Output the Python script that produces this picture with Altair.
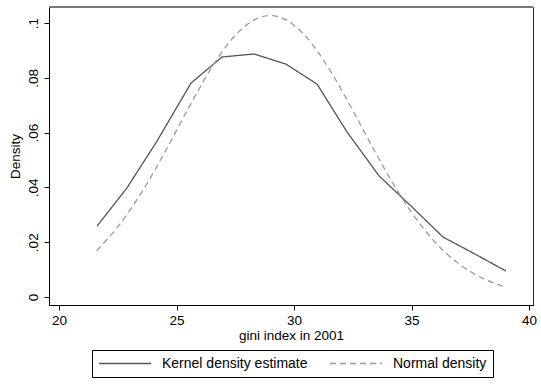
import altair as alt
import pandas as pd

# Kernel density estimate
kernel_x = [21.62, 22.89, 24.17, 25.62, 26.94, 28.30, 29.66, 30.98, 32.26, 33.62, 34.98, 36.34, 37.70, 39.02]
kernel_y = [0.0259, 0.0398, 0.0569, 0.0781, 0.0876, 0.0887, 0.0850, 0.0777, 0.0602, 0.0442, 0.0332, 0.0219, 0.0157, 0.0095]

# Normal density
normal_x = [21.6, 22.5, 23.5, 24.5, 25.5, 26.5, 27.5, 28.5, 29.0, 29.5, 30.5, 31.5, 32.5, 33.5, 34.5, 35.5, 36.5, 37.5, 38.5, 39.0]
normal_y = [0.0169, 0.0256, 0.0380, 0.0528, 0.0688, 0.0838, 0.0955, 0.1019, 0.1027, 0.1018, 0.0951, 0.0832, 0.0681, 0.0522, 0.0374, 0.0251, 0.0158, 0.0093, 0.0051, 0.0037]

series_names = ["Kernel density estimate", "Normal density"]
y_ticks = [0, 0.02, 0.04, 0.06, 0.08, 0.1]
x_ticks = [20, 25, 30, 35, 40]

rows = []
for x, y in zip(kernel_x, kernel_y):
    rows.append({"gini": x, "density": y, "series": series_names[0]})
for x, y in zip(normal_x, normal_y):
    rows.append({"gini": x, "density": y, "series": series_names[1]})
df = pd.DataFrame(rows)

W, H = 484, 298
FONT = "Liberation Sans"
AX_FS = 13.5

x_enc = alt.X("gini:Q",
              scale=alt.Scale(domain=[19.574, 40.170], nice=False, zero=False),
              axis=alt.Axis(values=x_ticks, title="gini index in 2001", grid=False,
                            tickSize=5, labelPadding=3, titlePadding=2,
                            labelFontSize=AX_FS, titleFontSize=AX_FS, titleFontWeight="normal",
                            labelFont=FONT, titleFont=FONT, labelColor="black", titleColor="black",
                            domainColor="black", tickColor="black", labelFlush=False))
y_enc = alt.Y("density:Q",
              scale=alt.Scale(domain=[-0.0029, 0.10584], nice=False, zero=False),
              axis=alt.Axis(values=y_ticks, title="Density", grid=False,
                            tickSize=5, labelPadding=4, titlePadding=4,
                            labelAngle=270, labelAlign="center", labelBaseline="bottom",
                            labelExpr="datum.value == 0 ? '0' : slice(format(datum.value, '.2~f'), 1)",
                            labelFontSize=AX_FS, titleFontSize=AX_FS, titleFontWeight="normal",
                            labelFont=FONT, titleFont=FONT, labelColor="black", titleColor="black",
                            domainColor="black", tickColor="black", labelFlush=False))
color_enc = alt.Color("series:N",
                      scale=alt.Scale(domain=series_names, range=["#555555", "#9a9a9a"]),
                      legend=alt.Legend(title=None, orient="none", legendX=43, legendY=343,
                                        direction="horizontal", strokeColor="black",
                                        fillColor="white", padding=6,
                                        symbolType="stroke", symbolSize=2700,
                                        symbolStrokeWidth=1.3, labelFontSize=14,
                                        labelFont=FONT, labelColor="black",
                                        clipHeight=15,
                                        labelOffset=10, columnPadding=21))
dash_enc = alt.StrokeDash("series:N",
                          scale=alt.Scale(domain=series_names, range=[[1, 0], [6, 4]]),
                          legend=None)

base = alt.Chart(df).encode(x=x_enc, y=y_enc, color=color_enc, strokeDash=dash_enc)

kernel = base.transform_filter(alt.datum.series == series_names[0]).mark_line(
    strokeWidth=1.3, interpolate="linear")
normal = base.transform_filter(alt.datum.series == series_names[1]).mark_line(
    strokeWidth=1.3, interpolate="monotone")

top_line = alt.Chart(pd.DataFrame({"k": [0]})).mark_rule(color="#777777", strokeWidth=2).encode(
    x=alt.value(0), x2=alt.value(W), y=alt.value(0)
)

chart = alt.layer(kernel, normal, top_line).properties(
    width=W, height=H,
    autosize=alt.AutoSizeParams(type="none"),
    padding={"left": 49, "top": 7, "right": 8, "bottom": 81},
    background="white",
).configure_view(stroke="#222222", strokeWidth=1)

chart.save("out.html", embed_options={"renderer": "svg", "actions": False})
